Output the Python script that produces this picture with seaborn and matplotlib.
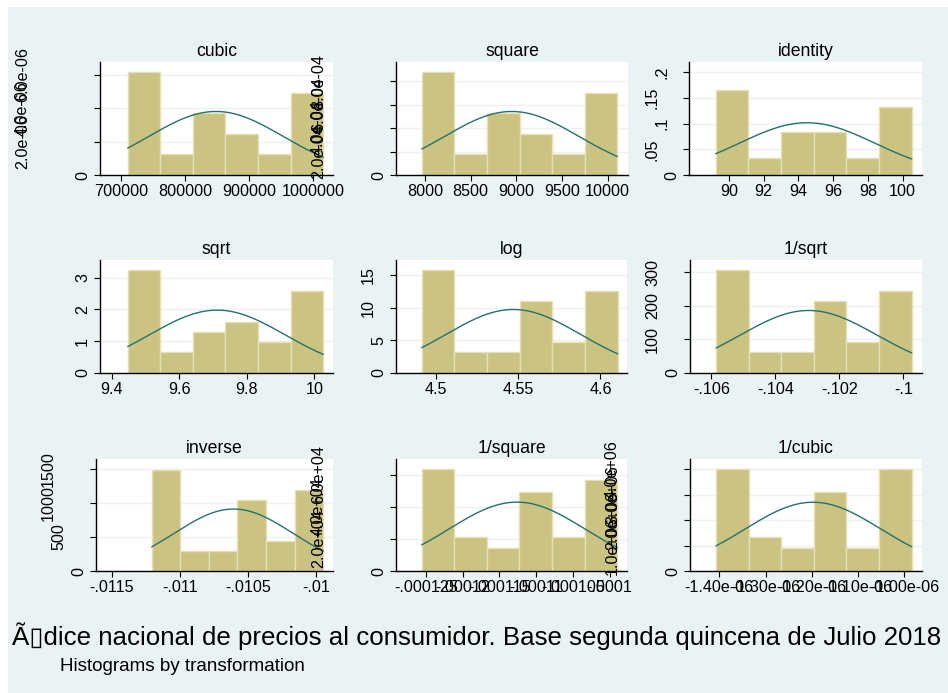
import numpy as np
import pandas as pd
import matplotlib
matplotlib.use("Agg")
import matplotlib.pyplot as plt
from matplotlib.patches import Rectangle
import seaborn as sns

sns.set_theme(style="white", rc={"text.color": "black", "axes.edgecolor": "black",
                                 "xtick.color": "black", "ytick.color": "black"})
plt.rcParams['font.family'] = ['Liberation Sans', 'DejaVu Sans']

# ---------------- data ----------------
transforms = ["cubic", "square", "identity", "sqrt", "log", "1/sqrt",
              "inverse", "1/square", "1/cubic"]

counts_cubic = [10, 2, 6, 4, 2, 8]
counts_square = [10, 2, 6, 4, 2, 8]
counts_identity = [10, 2, 5, 5, 2, 8]
counts_sqrt = [10, 2, 4, 5, 3, 8]
counts_log = [10, 2, 2, 7, 3, 8]
counts_inv_sqrt = [10, 2, 2, 7, 3, 8]
counts_inverse = [10, 2, 2, 7, 3, 8]
counts_inv_square = [9, 3, 2, 7, 3, 8]
counts_inv_cubic = [9, 3, 2, 7, 2, 9]

data_min = [710688, 7963.8, 89.24, 9.4467, 4.49133, -0.105857,
            -0.0112057, -1.25566e-4, -1.40709e-6]
data_max = [1015985, 10106.3, 100.53, 10.0264, 4.61046, -0.099736,
            -0.0099473, -9.8949e-5, -9.8427e-7]
normal_mean = [848500, 8950, 94.5, 9.712, 4.547, -0.10296,
               -0.010605, -1.1260e-4, -1.1975e-6]
normal_sd = [105000, 737, 3.92, 0.2015, 0.0410, 0.002140,
             4.37e-4, 9.30e-6, 1.477e-7]

x_ticks_cubic = [700000, 800000, 900000, 1000000]
x_labels_cubic = ["700000", "800000", "900000", "1000000"]
x_ticks_square = [8000, 8500, 9000, 9500, 10000]
x_labels_square = ["8000", "8500", "9000", "9500", "10000"]
x_ticks_identity = [90, 92, 94, 96, 98, 100]
x_labels_identity = ["90", "92", "94", "96", "98", "100"]
x_ticks_sqrt = [9.4, 9.6, 9.8, 10]
x_labels_sqrt = ["9.4", "9.6", "9.8", "10"]
x_ticks_log = [4.5, 4.55, 4.6]
x_labels_log = ["4.5", "4.55", "4.6"]
x_ticks_inv_sqrt = [-.106, -.104, -.102, -.1]
x_labels_inv_sqrt = ["-.106", "-.104", "-.102", "-.1"]
x_ticks_inverse = [-.0115, -.011, -.0105, -.01]
x_labels_inverse = ["-.0115", "-.011", "-.0105", "-.01"]
x_ticks_inv_square = [-.000125, -.00012, -.000115, -.00011, -.000105, -.0001]
x_labels_inv_square = ["-.000125", "-.00012", "-.000115", "-.00011", "-.000105", "-.0001"]
x_ticks_inv_cubic = [-1.4e-6, -1.3e-6, -1.2e-6, -1.1e-6, -1.0e-6]
x_labels_inv_cubic = ["-1.40e-06", "-1.30e-06", "-1.20e-06", "-1.10e-06", "-1.00e-06"]

y_ticks_cubic = [0, 2e-6, 4e-6, 6e-6]
y_labels_cubic = ["0", "2.0e-06", "4.0e-06", "6.0e-06"]
y_ticks_square = [0, 2e-4, 4e-4, 6e-4, 8e-4]
y_labels_square = ["0", "2.0e-04", "4.0e-04", "6.0e-04", "8.0e-04"]
y_ticks_identity = [0, .05, .1, .15, .2]
y_labels_identity = ["0", ".05", ".1", ".15", ".2"]
y_ticks_sqrt = [0, 1, 2, 3]
y_labels_sqrt = ["0", "1", "2", "3"]
y_ticks_log = [0, 5, 10, 15]
y_labels_log = ["0", "5", "10", "15"]
y_ticks_inv_sqrt = [0, 100, 200, 300]
y_labels_inv_sqrt = ["0", "100", "200", "300"]
y_ticks_inverse = [0, 500, 1000, 1500]
y_labels_inverse = ["0", "500", "1000", "1500"]
y_ticks_inv_square = [0, 2e4, 4e4, 6e4]
y_labels_inv_square = ["0", "2.0e+04", "4.0e+04", "6.0e+04"]
y_ticks_inv_cubic = [0, 1e6, 2e6, 3e6, 4e6]
y_labels_inv_cubic = ["0", "1.0e+06", "2.0e+06", "3.0e+06", "4.0e+06"]

x_limits = [(667454, 1031125), (7682, 10223.5), (87.70, 101.12),
            (9.3646, 10.0552), (4.47571, 4.61611), (-0.106670, -0.099414),
            (-0.011614, -0.009876), (-1.29063e-4, -9.7629e-5), (-1.46326e-6, -9.6202e-7)]

title_text = "Ã\u25afdice nacional de precios al consumidor. Base segunda quincena de Julio 2018"
note_text = "Histograms by transformation"

counts_all = [counts_cubic, counts_square, counts_identity, counts_sqrt, counts_log,
              counts_inv_sqrt, counts_inverse, counts_inv_square, counts_inv_cubic]
x_ticks_all = [x_ticks_cubic, x_ticks_square, x_ticks_identity, x_ticks_sqrt, x_ticks_log,
               x_ticks_inv_sqrt, x_ticks_inverse, x_ticks_inv_square, x_ticks_inv_cubic]
x_labels_all = [x_labels_cubic, x_labels_square, x_labels_identity, x_labels_sqrt, x_labels_log,
                x_labels_inv_sqrt, x_labels_inverse, x_labels_inv_square, x_labels_inv_cubic]
y_ticks_all = [y_ticks_cubic, y_ticks_square, y_ticks_identity, y_ticks_sqrt, y_ticks_log,
               y_ticks_inv_sqrt, y_ticks_inverse, y_ticks_inv_square, y_ticks_inv_cubic]
y_labels_all = [y_labels_cubic, y_labels_square, y_labels_identity, y_labels_sqrt, y_labels_log,
                y_labels_inv_sqrt, y_labels_inverse, y_labels_inv_square, y_labels_inv_cubic]

# ---------------- layout / style ----------------
W, H = 948, 693
BG = "#EAF2F3"
BAR = "#CBC381"
BAR_EDGE = "#E6E0B4"
LINE = "#26706E"

lefts = [100, 396, 689, 100, 396, 690, 96, 396, 690]
rights = [333, 628, 922, 333, 627, 922, 333, 627, 922]
tops = [62, 260, 459]
bottoms = [175, 373, 571]

fig = plt.figure(figsize=(W / 100, H / 100), dpi=100)
fig.patch.set_facecolor("white")
fig.patches.append(Rectangle((8 / W, 0), 1 - 8 / W, (H - 7) / H, transform=fig.transFigure,
                             facecolor=BG, edgecolor="none", zorder=-10))

TICK_LEN_PT = 4.5
PX2PT = 0.72
LABEL_SIZE = 11.6

for i, name in enumerate(transforms):
    r = i // 3
    l, rr = lefts[i], rights[i]
    t, b = tops[r], bottoms[r]
    ax = fig.add_axes([l / W, 1 - b / H, (rr - l) / W, (b - t) / H])
    ax.set_facecolor("white")

    lo, hi = data_min[i], data_max[i]
    edges = np.linspace(lo, hi, 7)
    centers = (edges[:-1] + edges[1:]) / 2
    df = pd.DataFrame({"value": centers, "n": counts_all[i]})
    sns.histplot(data=df, x="value", weights="n", bins=6, binrange=(lo, hi),
                 stat="density", color=BAR, edgecolor=BAR_EDGE, linewidth=1.0,
                 alpha=1, ax=ax, zorder=2)

    xs = np.linspace(lo, hi, 300)
    mu, sd = normal_mean[i], normal_sd[i]
    ys = np.exp(-0.5 * ((xs - mu) / sd) ** 2) / (sd * np.sqrt(2 * np.pi))
    sns.lineplot(x=xs, y=ys, color=LINE, linewidth=1.0, ax=ax, zorder=3)

    width = (hi - lo) / 6
    max_dens = max(counts_all[i]) / sum(counts_all[i]) / width
    ytop = 1.1 * max(max_dens, max(y_ticks_all[i]))
    ax.set_ylim(0, ytop)
    ax.set_xlim(*x_limits[i])

    ax.set_xticks(x_ticks_all[i], x_labels_all[i])
    ax.set_yticks(y_ticks_all[i], y_labels_all[i])
    ax.set_xlabel("")
    ax.set_ylabel("")

    for s in ["top", "right"]:
        ax.spines[s].set_visible(False)
    for s in ["left", "bottom"]:
        ax.spines[s].set_color("black")
        ax.spines[s].set_linewidth(1.0)

    ax.yaxis.grid(True, color=BG, linewidth=1.0)
    ax.xaxis.grid(False)
    ax.set_axisbelow(True)

    ax.tick_params(axis="both", which="major", direction="out", length=TICK_LEN_PT,
                   width=0.8, color="black", labelsize=LABEL_SIZE, labelcolor="black",
                   bottom=True, left=True)
    ax.tick_params(axis="x", pad=2)
    ax.tick_params(axis="y", labelrotation=90)
    for lbl in ax.get_yticklabels():
        lbl.set_verticalalignment("center")

    # Stata-like placement of rotated y labels: longer labels sit further left
    for tick, lab in zip(ax.yaxis.get_major_ticks(), y_labels_all[i]):
        center_off_px = 19 + 10 * (len(lab) - 1)
        pad_px = center_off_px - 9 - TICK_LEN_PT / PX2PT
        tick.set_pad(pad_px * PX2PT)

    ax.set_title(name, fontsize=12.7, pad=4, color="black")

# titles
title = fig.text(12 / W, 1 - 645 / H, title_text, ha="left", va="baseline",
                 fontsize=16, color="black")
note = fig.text(60 / W, 1 - 671 / H, note_text, ha="left", va="baseline",
                fontsize=11, color="black")
renderer = fig.canvas.get_renderer()
for txt, target in [(title, 933), (note, 245)]:
    w = txt.get_window_extent(renderer).width
    txt.set_fontsize(txt.get_fontsize() * target / w)

fig.savefig("out.png", dpi=100, facecolor=fig.get_facecolor())
